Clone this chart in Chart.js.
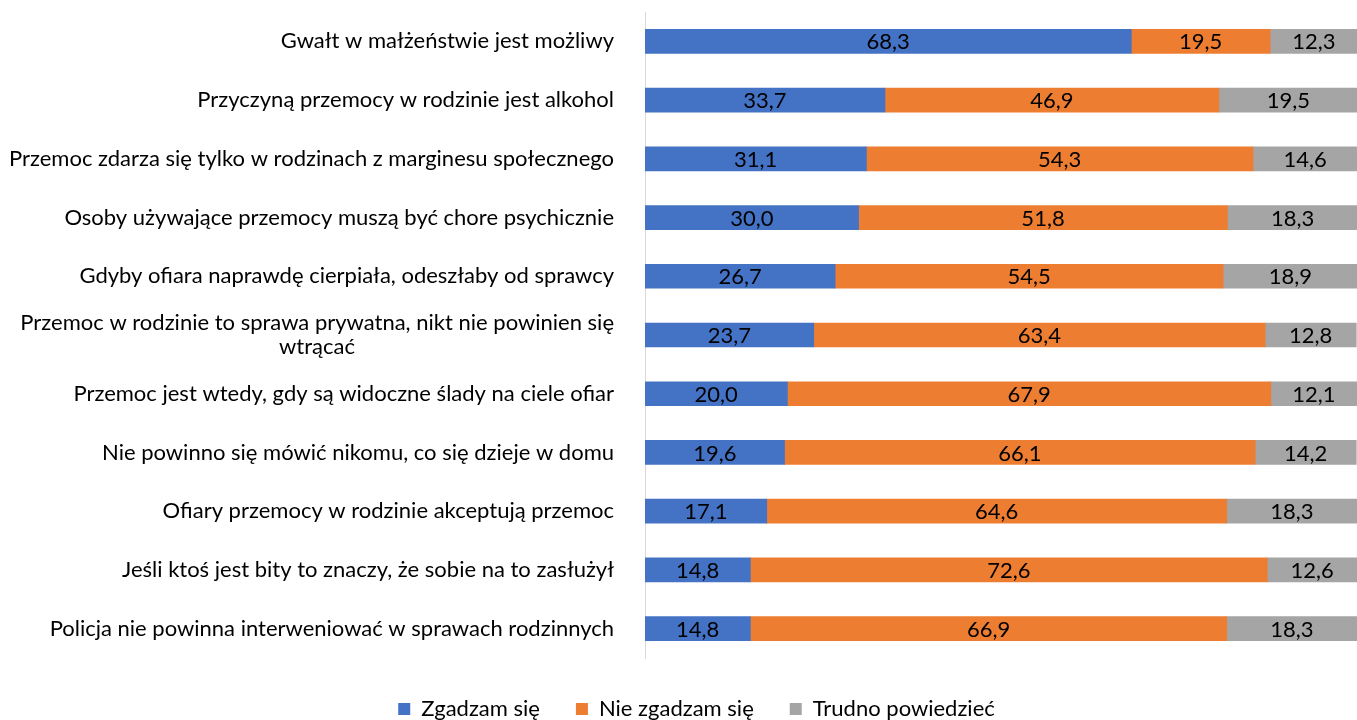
<!DOCTYPE html>
<html>
<head>
<meta charset="utf-8">
<script src="https://cdn.jsdelivr.net/npm/chart.js@4"></script>
<style>
  html, body { margin: 0; padding: 0; background: #fff; }
  #wrap { width: 1357px; height: 720px; }
</style>
</head>
<body>
<div id="wrap"><canvas id="myChart" width="1357" height="720"></canvas></div>
<script>
const categories = [
  "Gwałt w małżeństwie jest możliwy",
  "Przyczyną przemocy w rodzinie jest alkohol",
  "Przemoc zdarza się tylko w rodzinach z marginesu społecznego",
  "Osoby używające przemocy muszą być chore psychicznie",
  "Gdyby ofiara naprawdę cierpiała, odeszłaby od sprawcy",
  ["Przemoc w rodzinie to sprawa prywatna, nikt nie powinien się", "wtrącać"],
  "Przemoc jest wtedy, gdy są widoczne ślady na ciele ofiar",
  "Nie powinno się mówić nikomu, co się dzieje w domu",
  "Ofiary przemocy w rodzinie akceptują przemoc",
  "Jeśli ktoś jest bity to znaczy, że sobie na to zasłużył",
  "Policja nie powinna interweniować w sprawach rodzinnych"
];
const agree = [68.3, 33.7, 31.1, 30.0, 26.7, 23.7, 20.0, 19.6, 17.1, 14.8, 14.8];
const disagree = [19.5, 46.9, 54.3, 51.8, 54.5, 63.4, 67.9, 66.1, 64.6, 72.6, 66.9];
const unsure = [12.3, 19.5, 14.6, 18.3, 18.9, 12.8, 12.1, 14.2, 18.3, 12.6, 18.3];
const seriesNames = ["Zgadzam się", "Nie zgadzam się", "Trudno powiedzieć"];

const FONT = "Lato, 'Open Sans', sans-serif";
const FSIZE = 22;
const NBSP = "\u00A0";

// center the second line of wrapped labels: pad with no-break spaces until it sits mid-line
function centerLines(label, ctx) {
  if (!Array.isArray(label)) return label;
  ctx.save();
  ctx.font = FSIZE + "px " + FONT;
  const w0 = ctx.measureText(label[0]).width;
  const out = label.map((l, i) => {
    if (i === 0) return l;
    const target = (w0 + ctx.measureText(l).width) / 2;
    let s = l;
    while (ctx.measureText(s + NBSP).width <= target + 1 && s.length < 400) s += NBSP;
    return s;
  });
  ctx.restore();
  return out;
}

const valueLabels = {
  id: "valueLabels",
  afterInit(chart) {
    // fixed legend strip height at the bottom, nudged like the original
    const lg = chart.legend;
    const fit = lg.fit;
    lg.fit = function () { fit.call(this); this.height = 62; };
    const draw = lg.draw;
    lg.draw = function () {
      const c = this.ctx;
      c.save();
      c.translate(18, 4);
      draw.call(this);
      c.restore();
    };
  },
  afterDatasetsDraw(chart) {
    const ctx = chart.ctx;
    ctx.save();
    ctx.font = FSIZE + "px " + FONT;
    ctx.fillStyle = "#000";
    ctx.textAlign = "center";
    ctx.textBaseline = "middle";
    chart.data.datasets.forEach((ds, di) => {
      chart.getDatasetMeta(di).data.forEach((bar, i) => {
        const x = (bar.x + bar.base) / 2;
        ctx.fillText(ds.data[i].toFixed(1).replace(".", ","), x, bar.y + 1);
      });
    });
    ctx.restore();
  }
};

function draw() {
  const ctx = document.getElementById("myChart").getContext("2d");
  new Chart(ctx, {
    type: "bar",
    data: {
      labels: categories.map(l => centerLines(l, ctx)),
      datasets: [
        { label: seriesNames[0], data: agree, backgroundColor: "#4472C4" },
        { label: seriesNames[1], data: disagree, backgroundColor: "#ED7D31" },
        { label: seriesNames[2], data: unsure, backgroundColor: "#A5A5A5" }
      ]
    },
    options: {
      indexAxis: "y",
      responsive: false,
      animation: false,
      barThickness: 24,
      layout: { padding: { top: 12, right: 0, bottom: 0, left: 0 } },
      scales: {
        x: {
          stacked: true,
          min: 0,
          max: 100,
          display: false
        },
        y: {
          stacked: true,
          grid: { display: false },
          border: { display: true, color: "#d9d9d9", width: 1 },
          afterFit(scale) {
            scale.width = 645;
            scale.paddingTop = 0;
            scale.paddingBottom = 0;
          },
          ticks: {
            padding: 23,
            color: "#000",
            font: { family: FONT, size: FSIZE, lineHeight: 1.1 },
            autoSkip: false
          }
        }
      },
      plugins: {
        legend: {
          position: "bottom",
          labels: {
            boxWidth: 12,
            boxHeight: 12,
            padding: 36,
            color: "#000",
            font: { family: FONT, size: FSIZE }
          }
        },
        tooltip: { enabled: false }
      }
    },
    plugins: [valueLabels]
  });
}

document.fonts.load(FSIZE + "px Lato").then(draw, draw);
</script>
</body>
</html>
